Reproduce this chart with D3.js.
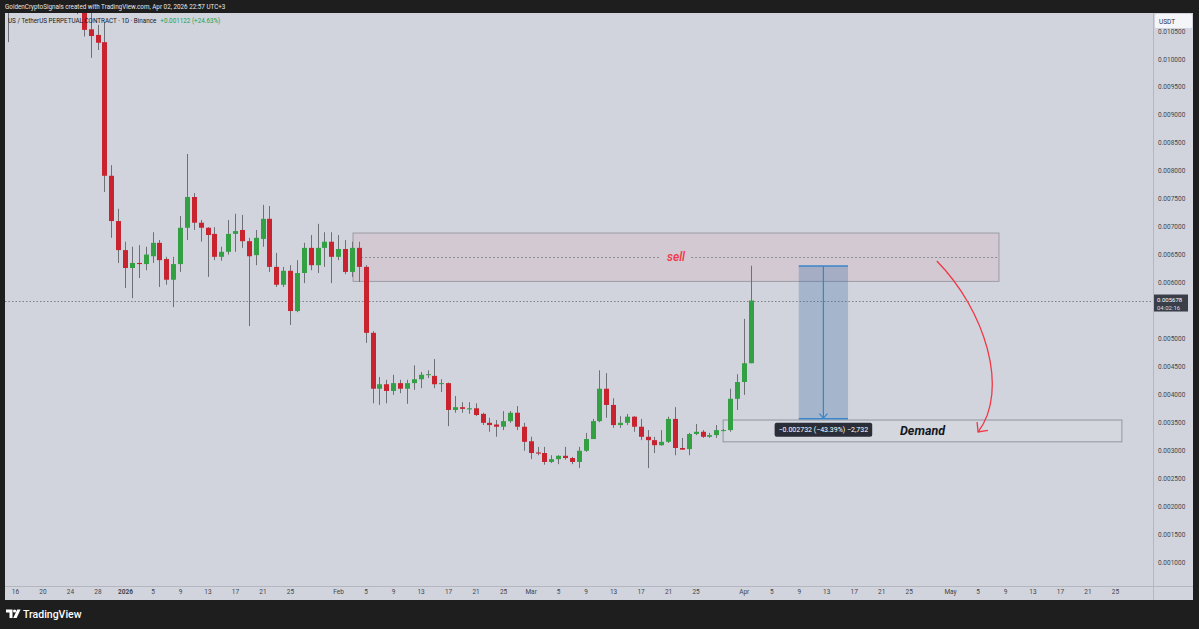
<!DOCTYPE html>
<html>
<head>
<meta charset="utf-8">
<script src="https://cdn.jsdelivr.net/npm/d3@7"></script>
<style>
  html, body { margin: 0; padding: 0; background: #1e1e1e; }
  svg { display: block; font-family: Roboto, "Liberation Sans", sans-serif; }
</style>
</head>
<body>
<div id="chart"></div>
<script>
////////////////////
// DATA (daily candles, USUSDT perp)

var dates = [
  "2025-12-15","2025-12-16","2025-12-17","2025-12-18","2025-12-19","2025-12-20","2025-12-21","2025-12-22","2025-12-23","2025-12-24",
  "2025-12-25","2025-12-26","2025-12-27","2025-12-28","2025-12-29","2025-12-30","2025-12-31",
  "2026-01-01","2026-01-02","2026-01-03","2026-01-04","2026-01-05","2026-01-06","2026-01-07","2026-01-08","2026-01-09","2026-01-10",
  "2026-01-11","2026-01-12","2026-01-13","2026-01-14","2026-01-15","2026-01-16","2026-01-17","2026-01-18","2026-01-19","2026-01-20",
  "2026-01-21","2026-01-22","2026-01-23","2026-01-24","2026-01-25","2026-01-26","2026-01-27","2026-01-28","2026-01-29","2026-01-30","2026-01-31",
  "2026-02-01","2026-02-02","2026-02-03","2026-02-04","2026-02-05","2026-02-06","2026-02-07","2026-02-08","2026-02-09","2026-02-10",
  "2026-02-11","2026-02-12","2026-02-13","2026-02-14","2026-02-15","2026-02-16","2026-02-17","2026-02-18","2026-02-19","2026-02-20",
  "2026-02-21","2026-02-22","2026-02-23","2026-02-24","2026-02-25","2026-02-26","2026-02-27","2026-02-28",
  "2026-03-01","2026-03-02","2026-03-03","2026-03-04","2026-03-05","2026-03-06","2026-03-07","2026-03-08","2026-03-09","2026-03-10",
  "2026-03-11","2026-03-12","2026-03-13","2026-03-14","2026-03-15","2026-03-16","2026-03-17","2026-03-18","2026-03-19","2026-03-20",
  "2026-03-21","2026-03-22","2026-03-23","2026-03-24","2026-03-25","2026-03-26","2026-03-27","2026-03-28","2026-03-29","2026-03-30","2026-03-31",
  "2026-04-01","2026-04-02"
];

var opens = [
  .01125,.01105,.01150,.01170,.01130,.01160,.01140,.01120,.01150,.01125,.01135,.01110,.01053,.01043,.01030,.00791,.00710,
  .00658,.00626,.00635,.00633,.00647,.00671,.00642,.00605,.00633,.00698,.00753,.00707,.00698,.00687,.00646,.00655,
  .00687,.00694,.00674,.00649,.00678,.00714,.00628,.00596,.00621,.00549,.00617,.00662,.00631,.00662,.00673,
  .00646,.00660,.00619,.00662,.00628,.00510,.00410,.00418,.00406,.00420,.00410,.00420,.00427,.00435,.00433,.00419,
  .00420,.00372,.00377,.00373,.00375,.00365,.00349,.00346,.00342,.00352,.00367,.00342,
  .00316,.00296,.00295,.00279,.00284,.00290,.00286,.00279,.00299,.00320,.00352,.00410,.00381,.00345,.00349,.00360,
  .00342,.00324,.00318,.00309,.00315,.00356,.00304,.00302,.00329,.00333,.00324,.00327,.00336,.00336,.00392,
  .00422,.004556
];
var highs = [
  .01160,.01180,.01200,.01190,.01175,.01185,.01160,.01170,.01165,.01150,.01150,.01130,.01090,.01061,.01066,.00810,.00732,
  .00673,.00664,.00667,.00664,.00690,.00676,.00646,.00646,.00719,.00830,.00760,.00712,.00699,.00699,.00664,.00712,
  .00723,.00721,.00680,.00694,.00739,.00737,.00653,.00628,.00631,.00640,.00671,.00685,.00705,.00690,.00690,
  .00685,.00676,.00673,.00673,.00631,.00513,.00431,.00426,.00435,.00426,.00426,.00452,.00440,.00443,.00463,.00427,
  .00421,.00397,.00386,.00386,.00384,.00367,.00358,.00354,.00370,.00370,.00379,.00349,
  .00324,.00306,.00306,.00291,.00291,.00306,.00288,.00306,.00331,.00356,.00443,.00438,.00393,.00361,.00365,.00361,
  .00356,.00336,.00324,.00336,.00360,.00377,.00322,.00331,.00347,.00336,.00331,.00345,.00338,.00410,.00436,
  .00535,.00630
];
var lows = [
  .01030,.01090,.01120,.01110,.01100,.01125,.01105,.01100,.01110,.01095,.01080,.01040,.01002,.01016,.00762,.00680,.00635,
  .00590,.00572,.00608,.00622,.00635,.00592,.00596,.00556,.00619,.00676,.00694,.00673,.00610,.00640,.00639,.00650,
  .00655,.00662,.00522,.00631,.00664,.00619,.00592,.00592,.00524,.00547,.00599,.00622,.00617,.00628,.00599,
  .00640,.00615,.00610,.00601,.00492,.00384,.00381,.00384,.00399,.00402,.00383,.00408,.00411,.00429,.00411,.00404,
  .00343,.00367,.00367,.00365,.00361,.00345,.00333,.00324,.00336,.00349,.00336,.00299,
  .00284,.00291,.00274,.00277,.00275,.00283,.00275,.00268,.00297,.00320,.00350,.00358,.00340,.00340,.00345,.00333,
  .00318,.00268,.00295,.00308,.00313,.00291,.00301,.00291,.00327,.00322,.00322,.00322,.00334,.00333,.00372,
  .00399,.004556
];
var closes = [
  .01105,.01150,.01170,.01130,.01160,.01140,.01120,.01150,.01125,.01135,.01110,.01052,.01041,.01029,.00791,.00710,.00658,
  .00626,.00635,.00633,.00650,.00671,.00640,.00605,.00633,.00698,.00753,.00707,.00698,.00685,.00646,.00655,.00687,
  .00692,.00674,.00647,.00680,.00714,.00628,.00596,.00621,.00549,.00617,.00662,.00631,.00662,.00673,.00646,
  .00660,.00619,.00662,.00628,.00510,.00410,.00418,.00406,.00420,.00410,.00420,.00427,.00435,.00436,.00418,.00420,
  .00372,.00377,.00374,.00375,.00363,.00349,.00345,.00342,.00352,.00367,.00342,.00315,
  .00295,.00294,.00279,.00284,.00290,.00286,.00279,.00299,.00320,.00352,.00410,.00381,.00345,.00349,.00360,.00342,
  .00324,.00318,.00309,.00315,.00356,.00304,.00301,.00329,.00333,.00324,.00327,.00336,.00336,.00392,.00422,
  .004556,.005678
];

// axis ticks (0.005500 sits under the last-price tag, so it is not shown)
var priceTicks = [0.001,0.0015,0.002,0.0025,0.003,0.0035,0.004,0.0045,0.005,0.006,0.0065,0.007,0.0075,0.008,0.0085,0.009,0.0095,0.01,0.0105];
var timeTicks = [
  "2025-12-16","2025-12-20","2025-12-24","2025-12-28",
  "2026-01-01","2026-01-05","2026-01-09","2026-01-13","2026-01-17","2026-01-21","2026-01-25",
  "2026-02-01","2026-02-05","2026-02-09","2026-02-13","2026-02-17","2026-02-21","2026-02-25",
  "2026-03-01","2026-03-05","2026-03-09","2026-03-13","2026-03-17","2026-03-21","2026-03-25",
  "2026-04-01","2026-04-05","2026-04-09","2026-04-13","2026-04-17","2026-04-21","2026-04-25",
  "2026-05-01","2026-05-05","2026-05-09","2026-05-13","2026-05-17","2026-05-21","2026-05-25"
];
var timeTickLabels = ["16","20","24","28","2026","5","9","13","17","21","25","Feb","5","9","13","17","21","25",
  "Mar","5","9","13","17","21","25","Apr","5","9","13","17","21","25","May","5","9","13","17","21","25"];

// drawings
var lastPrice = 0.005678;
var sellZone = ["2026-02-03T04:00", "2026-05-08T03:00", 0.00602, 0.006886];
var demandZone = ["2026-03-29T00:00", "2026-05-26T00:00", 0.00315, 0.00354];
var measure = ["2026-04-09T00:00", "2026-04-16T04:00", 0.006296, 0.003564];
var measureLabel = "\u22120.002732 (\u221243.39%) \u22122,732";
var curveArrow = [["2026-04-29T02:00",0.006385],["2026-05-06T02:00",0.005508],["2026-05-09T17:00",0.004077],["2026-05-05T02:00",0.003326]];

////////////////////
// SETUP

var W = 1199, H = 629;
var paneL = 5, paneT = 13, plotR = 1153, paneR = 1193, plotB = 586, paneB = 600;
var upColor = "#33a043", downColor = "#c8232f", wickColor = "#6f7075";

var parseDay = d3.utcParse("%Y-%m-%d");
var parseTime = d3.utcParse("%Y-%m-%dT%H:%M");

var candles = dates.map(function(d, i) {
  return { date: parseDay(d), o: opens[i], h: highs[i], l: lows[i], c: closes[i] };
});

var x = d3.scaleUtc()
  .domain([parseDay("2025-12-16"), parseDay("2026-05-25")])
  .range([15, 1115]);
var y = d3.scaleLinear()
  .domain([0.001, 0.0105])
  .range([562, 31]);

var svg = d3.select("#chart").append("svg")
  .attr("width", W)
  .attr("height", H);

svg.append("rect").attr("width", W).attr("height", H).attr("fill", "#1e1e1e");
svg.append("rect")
  .attr("x", paneL).attr("y", paneT)
  .attr("width", paneR - paneL).attr("height", paneB - paneT)
  .attr("fill", "#d1d4dc");

svg.append("clipPath").attr("id", "plotClip")
  .append("rect")
  .attr("x", paneL).attr("y", paneT)
  .attr("width", plotR - paneL).attr("height", plotB - paneT);

var plot = svg.append("g").attr("clip-path", "url(#plotClip)");

////////////////////
// ZONES

function zoneRect(z, fill, stroke) {
  var x0 = x(parseTime(z[0])), x1 = x(parseTime(z[1]));
  var y0 = y(z[3]), y1 = y(z[2]);
  plot.append("rect")
    .attr("x", x0).attr("y", y0)
    .attr("width", x1 - x0).attr("height", y1 - y0)
    .attr("fill", fill)
    .attr("stroke", stroke)
    .attr("stroke-width", 1);
  return { x0: x0, x1: x1, y0: y0, y1: y1 };
}

var sz = zoneRect(sellZone, "rgba(242,54,69,0.065)", "rgba(120,123,134,0.6)");
var dz = zoneRect(demandZone, "rgba(255,255,255,0.08)", "rgba(120,123,134,0.7)");

// last price line
plot.append("line")
  .attr("x1", paneL).attr("x2", plotR)
  .attr("y1", Math.round(y(lastPrice)) + 0.5).attr("y2", Math.round(y(lastPrice)) + 0.5)
  .attr("stroke", "#7b7e87")
  .attr("stroke-dasharray", "1.5,2");

// sell label + midline
var sellMid = y((sellZone[2] + sellZone[3]) / 2);
var sellText = plot.append("text")
  .attr("x", (sz.x0 + sz.x1) / 2).attr("y", sellMid)
  .attr("text-anchor", "middle")
  .attr("dominant-baseline", "central")
  .attr("font-size", "12px")
  .attr("font-style", "italic")
  .attr("font-weight", 500)
  .attr("fill", "#f23645")
  .text("sell");
var tw = sellText.node().getComputedTextLength();
[[sz.x0, (sz.x0 + sz.x1) / 2 - tw / 2 - 6], [(sz.x0 + sz.x1) / 2 + tw / 2 + 6, sz.x1]].forEach(function(seg) {
  plot.append("line")
    .attr("x1", seg[0]).attr("x2", seg[1])
    .attr("y1", Math.round(sellMid) + 0.5).attr("y2", Math.round(sellMid) + 0.5)
    .attr("stroke", "#8a8d96")
    .attr("stroke-dasharray", "2,2");
});

// demand label
plot.append("text")
  .attr("x", (dz.x0 + dz.x1) / 2).attr("y", (dz.y0 + dz.y1) / 2)
  .attr("text-anchor", "middle")
  .attr("dominant-baseline", "central")
  .attr("font-size", "12.5px")
  .attr("font-style", "italic")
  .attr("font-weight", 700)
  .attr("fill", "#131722")
  .text("Demand");

////////////////////
// CANDLES

var cw = 5;
var cg = plot.append("g");
cg.selectAll("line.wick")
  .data(candles)
  .enter().append("line")
  .attr("class", "wick")
  .attr("x1", function(d) { return Math.round(x(d.date)) + 0.5; })
  .attr("x2", function(d) { return Math.round(x(d.date)) + 0.5; })
  .attr("y1", function(d) { return y(d.h); })
  .attr("y2", function(d) { return y(d.l); })
  .attr("stroke", wickColor)
  .attr("stroke-width", 1);

cg.selectAll("rect.body")
  .data(candles)
  .enter().append("rect")
  .attr("class", "body")
  .attr("x", function(d) { return Math.round(x(d.date)) + 0.5 - cw / 2; })
  .attr("width", cw)
  .attr("y", function(d) { return y(Math.max(d.o, d.c)); })
  .attr("height", function(d) { return Math.max(1, Math.abs(y(d.o) - y(d.c))); })
  .attr("fill", function(d) { return d.c >= d.o ? upColor : downColor; });

////////////////////
// MEASURE TOOL

var mx0 = x(parseTime(measure[0])), mx1 = x(parseTime(measure[1]));
var my0 = y(measure[2]), my1 = y(measure[3]);
var mxc = (mx0 + mx1) / 2;
var blue = "#3a86c8";
plot.append("rect")
  .attr("x", mx0).attr("y", my0)
  .attr("width", mx1 - mx0).attr("height", my1 - my0)
  .attr("fill", "rgba(60,110,170,0.3)");
[my0, my1].forEach(function(yy) {
  plot.append("line")
    .attr("x1", mx0).attr("x2", mx1)
    .attr("y1", yy).attr("y2", yy)
    .attr("stroke", blue).attr("stroke-width", 1.5);
});
plot.append("line")
  .attr("x1", mxc).attr("x2", mxc)
  .attr("y1", my0).attr("y2", my1 - 0.5)
  .attr("stroke", blue).attr("stroke-width", 1.2);
plot.append("path")
  .attr("d", "M" + (mxc - 4) + "," + (my1 - 5) + "L" + mxc + "," + (my1 - 0.5) + "L" + (mxc + 4) + "," + (my1 - 5))
  .attr("fill", "none").attr("stroke", blue).attr("stroke-width", 1.2);

var mlG = plot.append("g");
var mlText = mlG.append("text")
  .attr("x", mxc).attr("y", my1 + 11)
  .attr("text-anchor", "middle")
  .attr("dominant-baseline", "central")
  .attr("font-size", "7px")
  .attr("fill", "#ffffff")
  .text(measureLabel);
var bb = mlText.node().getBBox();
mlG.insert("rect", "text")
  .attr("x", bb.x - 4).attr("y", my1 + 4)
  .attr("width", bb.width + 8).attr("height", 14)
  .attr("rx", 2)
  .attr("fill", "#2a2e39");

////////////////////
// CURVED ARROW

var cp = curveArrow.map(function(p) { return [x(parseTime(p[0])), y(p[1])]; });
plot.append("path")
  .attr("d", "M" + cp[0] + "C" + cp[1] + " " + cp[2] + " " + cp[3])
  .attr("fill", "none")
  .attr("stroke", "#f23645")
  .attr("stroke-width", 1.3);
var dx = cp[2][0] - cp[3][0], dy = cp[2][1] - cp[3][1];
var ang = Math.atan2(dy, dx);
var head = [ang - 0.75, ang + 0.75].map(function(a) {
  return [cp[3][0] + 10 * Math.cos(a), cp[3][1] + 10 * Math.sin(a)];
});
plot.append("path")
  .attr("d", "M" + head[0] + "L" + cp[3] + "L" + head[1])
  .attr("fill", "none")
  .attr("stroke", "#f23645")
  .attr("stroke-width", 1.3);

////////////////////
// AXES

svg.append("line")
  .attr("x1", plotR + 0.5).attr("x2", plotR + 0.5)
  .attr("y1", paneT).attr("y2", paneB)
  .attr("stroke", "#b4b7c0");
svg.append("line")
  .attr("x1", paneL).attr("x2", paneR)
  .attr("y1", plotB + 0.5).attr("y2", plotB + 0.5)
  .attr("stroke", "#b4b7c0");

var yAxis = svg.append("g")
  .attr("transform", "translate(" + plotR + ",0)")
  .call(d3.axisRight(y).tickValues(priceTicks).tickSize(0).tickPadding(5).tickFormat(d3.format(".6f")));
yAxis.select(".domain").remove();
yAxis.selectAll("text")
  .attr("font-size", "6.5px")
  .attr("font-family", "Roboto, sans-serif")
  .attr("fill", "#42454d");

var xAxis = svg.append("g")
  .attr("transform", "translate(0," + (plotB + 3) + ")")
  .call(d3.axisBottom(x).tickValues(timeTicks.map(parseDay)).tickSize(0).tickPadding(0)
    .tickFormat(function(d, i) { return timeTickLabels[i]; }));
xAxis.select(".domain").remove();
xAxis.selectAll("text")
  .attr("font-size", "6.5px")
  .attr("font-family", "Roboto, sans-serif")
  .attr("fill", "#42454d")
  .attr("font-weight", function(d, i) { return timeTickLabels[i] === "2026" ? 700 : 400; });

// USDT box
svg.append("rect")
  .attr("x", plotR + 2).attr("y", paneT + 1)
  .attr("width", paneR - plotR - 3).attr("height", 14)
  .attr("rx", 1.5)
  .attr("fill", "#f4f5f8");
svg.append("text")
  .attr("x", plotR + 6).attr("y", paneT + 8.5)
  .attr("dominant-baseline", "central")
  .attr("font-size", "6.5px")
  .attr("fill", "#2a2e39")
  .text("USDT");

// last price label
var lpY = y(lastPrice);
svg.append("rect")
  .attr("x", plotR + 1).attr("y", lpY - 6)
  .attr("width", 34).attr("height", 17)
  .attr("fill", "#3a3e48");
svg.append("text")
  .attr("x", plotR + 4).attr("y", lpY - 1)
  .attr("dominant-baseline", "central")
  .attr("font-size", "6px").attr("fill", "#ffffff")
  .text(d3.format(".6f")(lastPrice));
svg.append("text")
  .attr("x", plotR + 4).attr("y", lpY + 6.5)
  .attr("dominant-baseline", "central")
  .attr("font-size", "6px").attr("fill", "#d8dae0")
  .text("04:02:16");

////////////////////
// HEADERS

svg.append("text")
  .attr("x", 5).attr("y", 7)
  .attr("dominant-baseline", "central")
  .attr("font-size", "6.3px")
  .attr("fill", "#e8e8e8")
  .text("GoldenCryptoSignals created with TradingView.com, Apr 02, 2026 22:57 UTC+3");

var legend = svg.append("text")
  .attr("x", 8).attr("y", 20.5)
  .attr("dominant-baseline", "central")
  .attr("font-size", "6.3px")
  .attr("fill", "#131722");
legend.append("tspan").text("US / TetherUS PERPETUAL CONTRACT \u00b7 1D \u00b7 Binance");
legend.append("tspan").attr("dx", 4).attr("fill", "#22a04b").text("+0.001122 (+24.63%)");

// TradingView footer logo
var logo = svg.append("g").attr("fill", "#ffffff");
logo.append("path").attr("d", "M6,609.5 h6.5 v8.5 h-3 v-5.5 h-3.5z");
logo.append("circle").attr("cx", 14.6).attr("cy", 611).attr("r", 1.6);
logo.append("path").attr("d", "M13.2,618 L17.2,609.5 h3.4 L16.6,618z");
svg.append("text")
  .attr("x", 23).attr("y", 614)
  .attr("dominant-baseline", "central")
  .attr("font-size", "10.5px")
  .attr("font-weight", 500)
  .attr("fill", "#ffffff")
  .text("TradingView");
</script>
</body>
</html>
